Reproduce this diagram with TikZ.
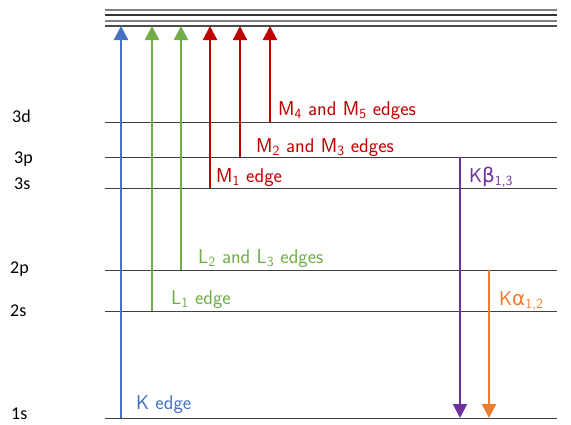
\documentclass[tikz,border=0pt]{standalone}
\usepackage{fontspec}
\setmainfont{Carlito}
\newfontfamily\grk{DejaVu Sans}
\usetikzlibrary{arrows.meta}
\definecolor{cblue}{HTML}{4472C4}
\definecolor{cgreen}{HTML}{70AD47}
\definecolor{cred}{HTML}{C00000}
\definecolor{cpurple}{HTML}{7030A0}
\definecolor{corange}{HTML}{ED7D31}
\definecolor{lvl}{HTML}{404040}
\begin{document}
\begin{tikzpicture}[x=1pt,y=-1pt,
  level/.style={draw=lvl,line width=1pt},
  lvllabel/.style={anchor=west,font=\fontsize{18}{20}\selectfont,text=black,inner sep=0pt},
  edgearrow/.style={line width=2.2pt,-{Triangle[length=14pt,width=14pt]}},
  edgelabel/.style={anchor=base west,font=\sffamily\fontsize{20}{22}\selectfont,inner sep=0pt}]
\useasboundingbox (0,0) rectangle (571,424);
% top levels
\foreach \yy/\cc in {10/gray,15/black!80,21/gray,26/black!70}
  \draw[line width=1.1pt,draw=\cc] (105,\yy) -- (557,\yy);
% level lines
\foreach \nm/\yy in {l3d/122,l3p/157,l3s/188,l2p/270,l2s/311,l1s/418}{
  \coordinate (\nm W) at (105,\yy);
  \coordinate (\nm E) at (557,\yy);
  \draw[level] (\nm W) -- (\nm E);
}
% labels
\node[lvllabel] (t3d) at (12,116) {3d};
\node[lvllabel] (t3p) at (14,159) {3p};
\node[lvllabel] (t3s) at (14,184) {3s};
\node[lvllabel] (t2p) at (10,269) {2p};
\node[lvllabel] (t2s) at (10,311) {2s};
\node[lvllabel] (t1s) at (11,414) {1s};
% arrow endpoints
\coordinate (kS) at (121,418); \coordinate (kE) at (121,26);
\coordinate (l1S) at (152,311); \coordinate (l1E) at (152,26);
\coordinate (l23S) at (181,270); \coordinate (l23E) at (181,26);
\coordinate (m1S) at (210,188); \coordinate (m1E) at (210,26);
\coordinate (m23S) at (240,157); \coordinate (m23E) at (240,26);
\coordinate (m45S) at (270,122); \coordinate (m45E) at (270,26);
\coordinate (kbS) at (460,157); \coordinate (kbE) at (460,418);
\coordinate (kaS) at (489,270); \coordinate (kaE) at (489,418);
\draw[edgearrow,cblue] (kS) -- (kE);
\draw[edgearrow,cgreen] (l1S) -- (l1E);
\draw[edgearrow,cgreen] (l23S) -- (l23E);
\draw[edgearrow,cred] (m1S) -- (m1E);
\draw[edgearrow,cred] (m23S) -- (m23E);
\draw[edgearrow,cred] (m45S) -- (m45E);
\draw[edgearrow,cpurple] (kbS) -- (kbE);
\draw[edgearrow,corange] (kaS) -- (kaE);
% edge labels
\node[edgelabel,text=cblue] (kL) at (136,409) {K edge};
\node[edgelabel,text=cgreen] (l1L) at (171,304) {L\textsubscript{1} edge};
\node[edgelabel,text=cgreen] (l23L) at (198,263) {L\textsubscript{2} and L\textsubscript{3} edges};
\node[edgelabel,text=cred] (m1L) at (216,182) {M\textsubscript{1} edge};
\node[edgelabel,text=cred] (m23L) at (256,152) {M\textsubscript{2} and M\textsubscript{3} edges};
\node[edgelabel,text=cred] (m45L) at (278,115) {M\textsubscript{4} and M\textsubscript{5} edges};
\node[edgelabel,text=cpurple] (kbL) at (469,182) {K{\grk β}\textsubscript{1,3}};
\node[edgelabel,text=corange] (kaL) at (499,305) {K{\grk α}\textsubscript{1,2}};
\end{tikzpicture}
\end{document}
